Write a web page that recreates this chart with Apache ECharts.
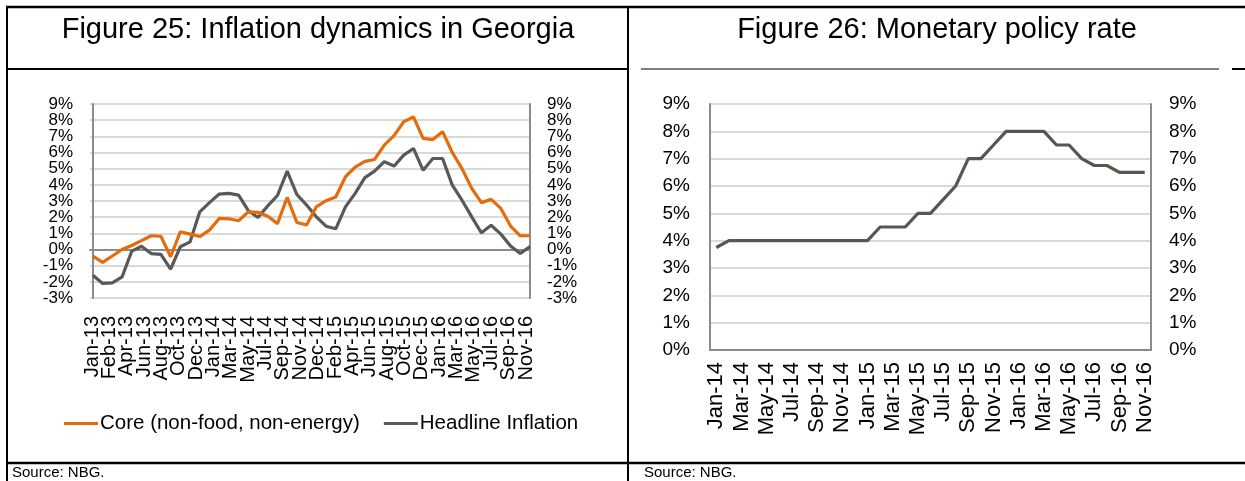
<!DOCTYPE html>
<html>
<head>
<meta charset="utf-8">
<script src="https://cdn.jsdelivr.net/npm/echarts@6/dist/echarts.min.js"></script>
<style>
  html, body { margin: 0; padding: 0; background: #ffffff; }
  #chart { width: 1245px; height: 481px; }
</style>
</head>
<body>
<div id="chart"></div>
<script>
// Figure 25: monthly y/y inflation, Jan-13 .. Oct-16 (percent)
const inflationMonths = [
  'Jan-13','Feb-13','Mar-13','Apr-13','May-13','Jun-13','Jul-13','Aug-13','Sep-13','Oct-13','Nov-13','Dec-13',
  'Jan-14','Feb-14','Mar-14','Apr-14','May-14','Jun-14','Jul-14','Aug-14','Sep-14','Oct-14','Nov-14','Dec-14',
  'Jan-15','Feb-15','Mar-15','Apr-15','May-15','Jun-15','Jul-15','Aug-15','Sep-15','Oct-15','Nov-15','Dec-15',
  'Jan-16','Feb-16','Mar-16','Apr-16','May-16','Jun-16','Jul-16','Aug-16','Sep-16','Oct-16'
];
const coreInflation = [
  -0.41, -0.8, -0.4, 0.0, 0.25, 0.55, 0.85, 0.82, -0.45, 1.1,
  0.95, 0.8, 1.2, 1.92, 1.9, 1.78, 2.33, 2.3, 2.06, 1.6,
  3.22, 1.67, 1.52, 2.64, 3.02, 3.25, 4.5, 5.1, 5.45, 5.57,
  6.46, 7.04, 7.9, 8.2, 6.87, 6.8, 7.29, 6.0, 5.0, 3.78,
  2.9, 3.1, 2.54, 1.45, 0.85, 0.85
];
const headlineInflation = [
  -1.59, -2.1, -2.06, -1.7, -0.1, 0.2, -0.25, -0.3, -1.22, 0.17,
  0.47, 2.33, 2.9, 3.43, 3.47, 3.36, 2.4, 1.98, 2.7, 3.34,
  4.85, 3.4, 2.75, 2.02, 1.44, 1.28, 2.64, 3.47, 4.45, 4.85,
  5.43, 5.16, 5.84, 6.25, 4.9, 5.63, 5.63, 3.98, 3.05, 2.02,
  1.03, 1.5, 0.95, 0.22, -0.25, 0.18
];
// tick labels printed under Figure 25
const inflationTickLabels = [
  'Jan-13','Feb-13','Apr-13','Jun-13','Aug-13','Oct-13','Dec-13','Jan-14','Mar-14','May-14',
  'Jul-14','Sep-14','Nov-14','Dec-14','Feb-15','Apr-15','Jun-15','Aug-15','Oct-15','Dec-15',
  'Jan-16','Mar-16','May-16','Jul-16','Sep-16','Nov-16'
];
// Figure 25 value range (percent)
const inflationMin = -3;
const inflationMax = 9;

// Figure 26: NBG monetary policy rate, Jan-14 .. Nov-16 (percent)
const rateMonths = [
  'Jan-14','Feb-14','Mar-14','Apr-14','May-14','Jun-14','Jul-14','Aug-14','Sep-14','Oct-14','Nov-14','Dec-14',
  'Jan-15','Feb-15','Mar-15','Apr-15','May-15','Jun-15','Jul-15','Aug-15','Sep-15','Oct-15','Nov-15','Dec-15',
  'Jan-16','Feb-16','Mar-16','Apr-16','May-16','Jun-16','Jul-16','Aug-16','Sep-16','Oct-16','Nov-16'
];
const policyRate = [
  3.75, 4, 4, 4, 4, 4, 4, 4, 4, 4, 4, 4,
  4, 4.5, 4.5, 4.5, 5, 5, 5.5, 6, 7, 7, 7.5,
  8, 8, 8, 8, 7.5, 7.5, 7, 6.75, 6.75, 6.5, 6.5, 6.5
];

const FONT = '"Liberation Sans", Arial, Helvetica, sans-serif';
const ORANGE = '#e46c0a';
const DARK = '#595959';
const GRID_LINE = '#d9d9d9';
const AXIS_LINE = '#8c8c8c';

const pct = v => v + '%';

function frameLine(x1, y1, x2, y2, w) {
  return { type: 'line', silent: true, z: 100,
    shape: { x1, y1, x2, y2 },
    style: { stroke: '#000', lineWidth: w } };
}
function caption(text, x, y, size, align) {
  return { type: 'text', silent: true, z: 100, x, y,
    style: { text, fill: '#000', font: size + 'px ' + FONT,
             textAlign: align, textVerticalAlign: 'middle' } };
}
function pctLabels(size, margin) {
  return { formatter: pct, margin, color: '#000', fontSize: size, fontFamily: FONT,
           showMinLabel: true, showMaxLabel: true };
}

// Figure 25 plot box; its percent labels are packed so tightly that they are
// split over two axes (odd and even steps), the even one on an inset grid.
const inflPlot = { left: 90, top: 104, width: 440, height: 194 };
const stepPx = inflPlot.height / (inflationMax - inflationMin);
const inflInset = {
  left: inflPlot.left, width: inflPlot.width,
  top: inflPlot.top + stepPx, height: inflPlot.height - 2 * stepPx
};

const chart = echarts.init(document.getElementById('chart'));

chart.setOption({
  animation: false,
  textStyle: { fontFamily: FONT },
  grid: [
    inflPlot,
    // Figure 25 tick-label strip
    { left: 92, top: inflPlot.top, width: 434, height: inflPlot.height },
    // Figure 26 plot area
    { left: 710, top: 104, width: 441, height: 246 },
    inflInset
  ],
  xAxis: [
    { gridIndex: 0, type: 'value', min: -0.3, max: inflationMonths.length - 1,
      axisLine: { onZero: true, lineStyle: { color: AXIS_LINE, width: 2 } },
      axisTick: { show: false }, axisLabel: { show: false }, splitLine: { show: false } },
    { gridIndex: 1, type: 'category', data: inflationTickLabels, boundaryGap: false,
      position: 'bottom',
      axisLine: { show: false, onZero: false }, axisTick: { show: false },
      axisLabel: { rotate: 90, interval: 0, margin: 18, color: '#000', fontSize: 20, fontFamily: FONT } },
    { gridIndex: 2, type: 'category', data: rateMonths, boundaryGap: true,
      axisLine: { lineStyle: { color: AXIS_LINE, width: 2 } },
      axisTick: { show: false },
      axisLabel: { rotate: 90, interval: 1, margin: 12, color: '#000', fontSize: 22, fontFamily: FONT } },
    { gridIndex: 3, type: 'value', show: false, min: 0, max: 1 }
  ],
  yAxis: [
    // 0: Figure 25 left, odd steps (-3, -1, ... 9) plus all grid lines
    { gridIndex: 0, type: 'value', min: inflationMin, max: inflationMax, interval: 2,
      axisLine: { show: true, lineStyle: { color: AXIS_LINE, width: 2 } },
      axisTick: { show: false },
      axisLabel: pctLabels(17, 17),
      splitLine: { lineStyle: { color: GRID_LINE, width: 2 } },
      minorTick: { show: false, splitNumber: 2 },
      minorSplitLine: { show: true, lineStyle: { color: GRID_LINE, width: 2 } } },
    // 1: Figure 25 right, odd steps
    { gridIndex: 0, type: 'value', position: 'right', min: inflationMin, max: inflationMax, interval: 2,
      axisLine: { show: true, lineStyle: { color: AXIS_LINE, width: 2 } },
      axisTick: { show: false },
      axisLabel: pctLabels(17, 17),
      splitLine: { show: false } },
    // 2: label strip helper
    { gridIndex: 1, type: 'value', show: false, min: 0, max: 1 },
    // 3, 4: Figure 26
    { gridIndex: 2, type: 'value', min: 0, max: 9, interval: 1,
      axisLine: { show: true, lineStyle: { color: AXIS_LINE, width: 2 } },
      axisTick: { show: false },
      axisLabel: pctLabels(19, 20),
      splitLine: { lineStyle: { color: GRID_LINE, width: 2 } } },
    { gridIndex: 2, type: 'value', position: 'right', min: 0, max: 9, interval: 1,
      axisLine: { show: true, lineStyle: { color: AXIS_LINE, width: 2 } },
      axisTick: { show: false },
      axisLabel: pctLabels(19, 18),
      splitLine: { show: false } },
    // 5, 6: Figure 25 even steps (-2, 0, ... 8)
    { gridIndex: 3, type: 'value', min: inflationMin + 1, max: inflationMax - 1, interval: 2,
      axisLine: { show: false }, axisTick: { show: false },
      axisLabel: pctLabels(17, 17), splitLine: { show: false } },
    { gridIndex: 3, type: 'value', position: 'right', min: inflationMin + 1, max: inflationMax - 1, interval: 2,
      axisLine: { show: false }, axisTick: { show: false },
      axisLabel: pctLabels(17, 17), splitLine: { show: false } }
  ],
  legend: {
    left: 64, top: 413, padding: 0,
    icon: 'rect', itemWidth: 34, itemHeight: 3, itemGap: 24,
    textStyle: { color: '#000', fontSize: 20.5, fontFamily: FONT, padding: [0, 0, 0, -3] },
    data: ['Core (non-food, non-energy)', 'Headline Inflation']
  },
  series: [
    { name: 'Core (non-food, non-energy)', type: 'line', xAxisIndex: 0, yAxisIndex: 0,
      data: coreInflation.map((v, i) => [i, v]),
      symbol: 'none', color: ORANGE, lineStyle: { color: ORANGE, width: 3.2 }, z: 4 },
    { name: 'Headline Inflation', type: 'line', xAxisIndex: 0, yAxisIndex: 0,
      data: headlineInflation.map((v, i) => [i, v]),
      symbol: 'none', color: DARK, lineStyle: { color: DARK, width: 3.2 }, z: 3 },
    { name: 'Policy rate', type: 'line', xAxisIndex: 2, yAxisIndex: 3,
      data: policyRate,
      symbol: 'none', color: '#57574f', lineStyle: { color: '#57574f', width: 3.2 } }
  ],
  graphic: [
    // table frame
    frameLine(6, 7, 1245, 7, 2.5),
    frameLine(7, 6, 7, 481, 2),
    frameLine(628, 6, 628, 481, 2),
    frameLine(6, 69, 628, 69, 2),
    frameLine(641, 69, 1219, 69, 1.2),
    frameLine(1232, 69, 1245, 69, 2),
    frameLine(6, 463, 1245, 463, 2.5),
    // headers and sources
    caption('Figure 25: Inflation dynamics in Georgia', 318, 29.5, 29, 'center'),
    caption('Figure 26: Monetary policy rate', 937, 29.5, 29, 'center'),
    caption('Source: NBG.', 12, 473, 15, 'left'),
    caption('Source: NBG.', 644, 473, 15, 'left')
  ]
});
</script>
</body>
</html>
